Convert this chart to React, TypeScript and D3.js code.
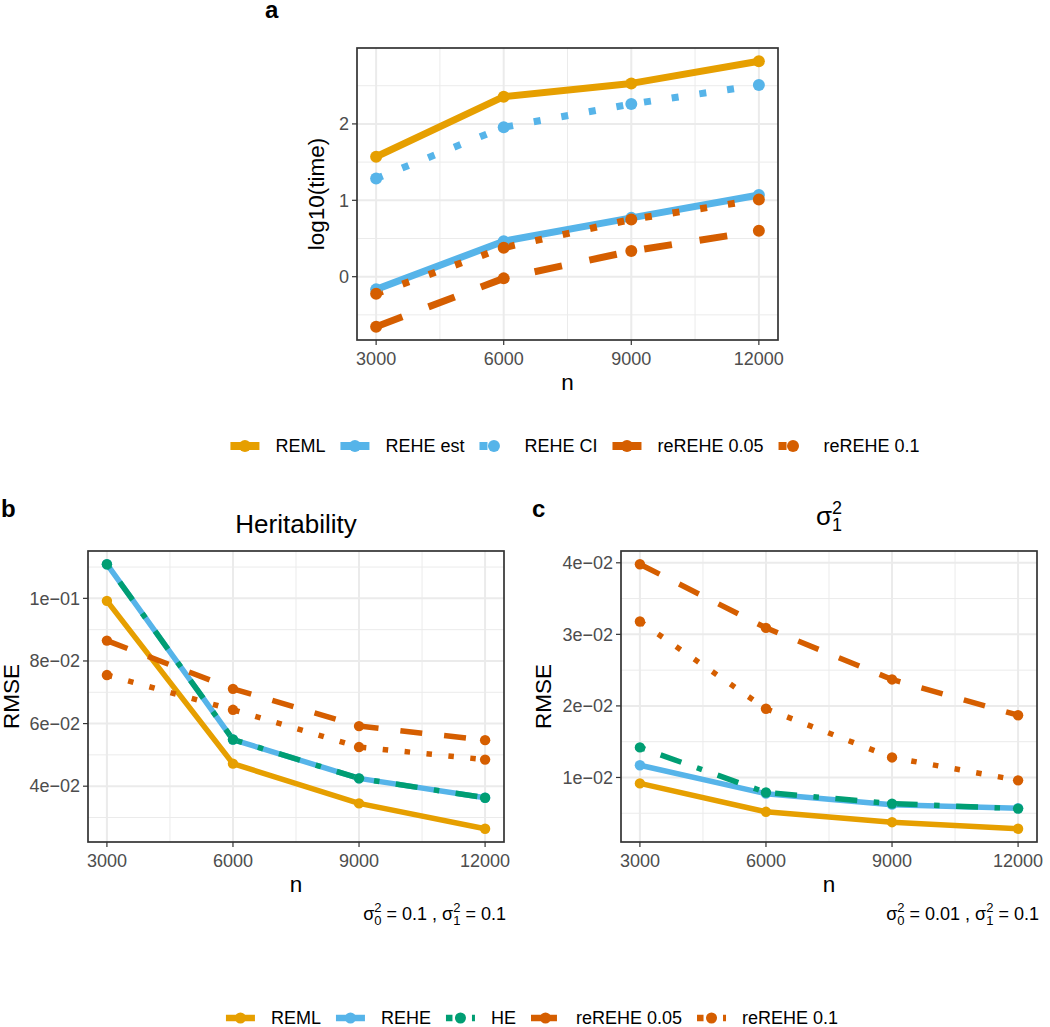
import React from 'react';
import * as d3 from 'd3';

// ---------------- data ----------------
const nValues = [3000, 6000, 9000, 12000];

// Panel a: log10(time)
const timeREML = [1.57, 2.357, 2.53, 2.82];
const timeREHEest = [-0.166, 0.465, 0.77, 1.07];
const timeREHECI = [1.285, 1.956, 2.26, 2.51];
const timeReREHE005 = [-0.655, -0.022, 0.335, 0.6];
const timeReREHE01 = [-0.222, 0.38, 0.75, 1.01];

// Panel b: Heritability RMSE
const h2REML = [0.0992, 0.0472, 0.0345, 0.0264];
const h2REHE = [0.1109, 0.0549, 0.0425, 0.0363];
const h2HE = [0.1109, 0.0549, 0.0425, 0.0363];
const h2ReREHE005 = [0.0865, 0.0711, 0.0592, 0.0547];
const h2ReREHE01 = [0.0755, 0.0644, 0.0525, 0.0485];

// Panel c: sigma_1^2 RMSE
const s1REML = [0.00917, 0.0052, 0.00375, 0.00283];
const s1REHE = [0.0117, 0.00774, 0.0062, 0.0057];
const s1HE = [0.0142, 0.0079, 0.00635, 0.00565];
const s1ReREHE005 = [0.0398, 0.0309, 0.0237, 0.0187];
const s1ReREHE01 = [0.0318, 0.0196, 0.0128, 0.0096];

const xTicks = [3000, 6000, 9000, 12000];
const xMinor = [4500, 7500, 10500];
const aYTicks = [0, 1, 2];
const aYMinor = [-0.5, 0.5, 1.5, 2.5];
const bYTicks = [0.04, 0.06, 0.08, 0.1];
const bYMinor = [0.03, 0.05, 0.07, 0.09, 0.11];
const cYTicks = [0.01, 0.02, 0.03, 0.04];
const cYMinor = [0.005, 0.015, 0.025, 0.035];

const legendALabels = ['REML', 'REHE est', 'REHE CI', 'reREHE 0.05', 'reREHE 0.1'];
const legendBLabels = ['REML', 'REHE', 'HE', 'reREHE 0.05', 'reREHE 0.1'];

// ---------------- styles ----------------
const C_REML = '#E69F00';
const C_REHE = '#56B4E9';
const C_HE = '#009E73';
const C_RE = '#D55E00';
const FONT = "'Liberation Sans', Arial, Helvetica, sans-serif";

type LT = 'solid' | 'dashed' | 'dotted' | 'dotdash';
interface Series { values: number[]; color: string; lt: LT; }

const aSeries: Series[] = [
  { values: timeREML, color: C_REML, lt: 'solid' },
  { values: timeREHEest, color: C_REHE, lt: 'solid' },
  { values: timeREHECI, color: C_REHE, lt: 'dotted' },
  { values: timeReREHE005, color: C_RE, lt: 'dashed' },
  { values: timeReREHE01, color: C_RE, lt: 'dotted' },
];
const bSeries: Series[] = [
  { values: h2REML, color: C_REML, lt: 'solid' },
  { values: h2REHE, color: C_REHE, lt: 'solid' },
  { values: h2HE, color: C_HE, lt: 'dotdash' },
  { values: h2ReREHE005, color: C_RE, lt: 'dashed' },
  { values: h2ReREHE01, color: C_RE, lt: 'dotted' },
];
const cSeries: Series[] = [
  { values: s1REML, color: C_REML, lt: 'solid' },
  { values: s1REHE, color: C_REHE, lt: 'solid' },
  { values: s1HE, color: C_HE, lt: 'dotdash' },
  { values: s1ReREHE005, color: C_RE, lt: 'dashed' },
  { values: s1ReREHE01, color: C_RE, lt: 'dotted' },
];

function dash(lt: LT, lw: number): string | undefined {
  if (lt === 'dashed') return `${4 * lw} ${4 * lw}`;
  if (lt === 'dotted') return `${lw} ${3 * lw}`;
  if (lt === 'dotdash') return `${lw} ${3 * lw} ${4 * lw} ${3 * lw}`;
  return undefined;
}

function sciFmt(v: number): string {
  const s = d3.format('.0e')(v);
  const [m, e] = s.split('e');
  const n = parseInt(e, 10);
  const sign = n < 0 ? '\u2212' : '+';
  return `${m}e${sign}${String(Math.abs(n)).padStart(2, '0')}`;
}

interface Rect { x0: number; x1: number; y0: number; y1: number; }

function Panel({ rect, series, yTicks, yMinor, yFmt, lw, r }: {
  rect: Rect; series: Series[]; yTicks: number[]; yMinor: number[];
  yFmt: (v: number) => string; lw: number; r: number;
}) {
  const xPad = (12000 - 3000) * 0.05;
  const x = d3.scaleLinear().domain([3000 - xPad, 12000 + xPad]).range([rect.x0, rect.x1]);
  const all = series.flatMap((s) => s.values);
  const [lo, hi] = d3.extent(all) as [number, number];
  const pad = (hi - lo) * 0.05;
  const y = d3.scaleLinear().domain([lo - pad, hi + pad]).range([rect.y1, rect.y0]);
  const line = d3.line<number>().x((_, i) => x(nValues[i])).y((d) => y(d));
  const grid = '#EBEBEB';
  return (
    <g>
      <rect x={rect.x0} y={rect.y0} width={rect.x1 - rect.x0} height={rect.y1 - rect.y0} fill="white" />
      {yMinor.map((v) => (
        <line key={'ym' + v} x1={rect.x0} x2={rect.x1} y1={y(v)} y2={y(v)} stroke={grid} strokeWidth={1} />
      ))}
      {xMinor.map((v) => (
        <line key={'xm' + v} y1={rect.y0} y2={rect.y1} x1={x(v)} x2={x(v)} stroke={grid} strokeWidth={1} />
      ))}
      {yTicks.map((v) => (
        <line key={'yg' + v} x1={rect.x0} x2={rect.x1} y1={y(v)} y2={y(v)} stroke={grid} strokeWidth={2} />
      ))}
      {xTicks.map((v) => (
        <line key={'xg' + v} y1={rect.y0} y2={rect.y1} x1={x(v)} x2={x(v)} stroke={grid} strokeWidth={2} />
      ))}
      {series.map((s, i) => (
        <path key={'l' + i} d={line(s.values) || ''} fill="none" stroke={s.color} strokeWidth={lw}
          strokeDasharray={dash(s.lt, lw)} strokeLinecap="butt" strokeLinejoin="round" />
      ))}
      {series.map((s, i) =>
        s.values.map((v, j) => (
          <circle key={'p' + i + '-' + j} cx={x(nValues[j])} cy={y(v)} r={r} fill={s.color} />
        ))
      )}
      <rect x={rect.x0} y={rect.y0} width={rect.x1 - rect.x0} height={rect.y1 - rect.y0}
        fill="none" stroke="#333333" strokeWidth={1.7} />
      {xTicks.map((v) => (
        <g key={'xt' + v}>
          <line x1={x(v)} x2={x(v)} y1={rect.y1} y2={rect.y1 + 5} stroke="#333333" strokeWidth={1.2} />
          <text x={x(v)} y={rect.y1 + 25} textAnchor="middle" fontSize={18} fill="#4D4D4D">{v}</text>
        </g>
      ))}
      {yTicks.map((v) => (
        <g key={'yt' + v}>
          <line x1={rect.x0 - 5} x2={rect.x0} y1={y(v)} y2={y(v)} stroke="#333333" strokeWidth={1.2} />
          <text x={rect.x0 - 8} y={y(v)} dy="0.35em" textAnchor="end" fontSize={18} fill="#4D4D4D">{yFmt(v)}</text>
        </g>
      ))}
      <text x={(rect.x0 + rect.x1) / 2} y={rect.y1 + 50} textAnchor="middle" fontSize={22.5} fill="black">n</text>
    </g>
  );
}

function measure(text: string, size: number): number {
  if (typeof document === 'undefined') return text.length * size * 0.55;
  const c = document.createElement('canvas').getContext('2d');
  if (!c) return text.length * size * 0.55;
  c.font = `${size}px ${FONT}`;
  return c.measureText(text).width;
}

function Legend({ labels, series, cx, cy, lw, r }: {
  labels: string[]; series: Series[]; cx: number; cy: number; lw: number; r: number;
}) {
  const keyW = 29;
  const widths = labels.map((l) => measure(l, 18));
  const total = d3.sum(widths) + labels.length * 45 + (labels.length - 1) * 15;
  let xPos = cx - total / 2;
  const items = labels.map((l, i) => {
    const x0 = xPos;
    xPos += 45 + widths[i] + 15;
    return { l, x0, s: series[i] };
  });
  return (
    <g>
      {items.map((it, i) => (
        <g key={i}>
          <line x1={it.x0} x2={it.x0 + keyW} y1={cy} y2={cy} stroke={it.s.color} strokeWidth={lw}
            strokeDasharray={dash(it.s.lt, lw)} strokeLinecap="butt" />
          <circle cx={it.x0 + keyW / 2} cy={cy} r={r} fill={it.s.color} />
          <text x={it.x0 + 45} y={cy} dy="0.35em" fontSize={18} fill="black">{it.l}</text>
        </g>
      ))}
    </g>
  );
}

function Caption({ right, y, s0 }: { right: number; y: number; s0: string }) {
  return (
    <text x={right} y={y} textAnchor="end" fontSize={18} fill="black" style={{ whiteSpace: 'pre' }}>
      σ<tspan dy={-8} fontSize={13}>2</tspan><tspan dx={-7.2} dy={13} fontSize={13}>0</tspan>
      <tspan dy={-5}>{` = ${s0} , σ`}</tspan><tspan dy={-8} fontSize={13}>2</tspan>
      <tspan dx={-7.2} dy={13} fontSize={13}>1</tspan><tspan dy={-5}>{' = 0.1'}</tspan>
    </text>
  );
}

export default function App() {
  const rectA: Rect = { x0: 357, x1: 778, y0: 48, y1: 340 };
  const rectB: Rect = { x0: 88, x1: 504, y0: 551, y1: 842 };
  const rectC: Rect = { x0: 621, x1: 1037, y0: 551, y1: 842 };
  return (
    <svg width={1050} height={1027} style={{ position: 'absolute', left: 0, top: 0, fontFamily: FONT }}
      xmlns="http://www.w3.org/2000/svg">
      <rect width={1050} height={1027} fill="white" />
      {/* panel a */}
      <text x={265} y={18} fontSize={24} fontWeight="bold">a</text>
      <Panel rect={rectA} series={aSeries} yTicks={aYTicks} yMinor={aYMinor} yFmt={(v) => String(v)} lw={7} r={6} />
      <text transform={`translate(324,${(rectA.y0 + rectA.y1) / 2}) rotate(-90)`} textAnchor="middle" fontSize={22.5}>log10(time)</text>
      <Legend labels={legendALabels} series={aSeries} cx={575} cy={446} lw={8} r={6} />

      {/* panel b */}
      <text x={1} y={517} fontSize={24} fontWeight="bold">b</text>
      <text x={(rectB.x0 + rectB.x1) / 2} y={533} textAnchor="middle" fontSize={26}>Heritability</text>
      <Panel rect={rectB} series={bSeries} yTicks={bYTicks} yMinor={bYMinor} yFmt={sciFmt} lw={5.5} r={5.2} />
      <text transform={`translate(19,${(rectB.y0 + rectB.y1) / 2}) rotate(-90)`} textAnchor="middle" fontSize={22.5}>RMSE</text>
      <Caption right={506} y={920} s0="0.1" />

      {/* panel c */}
      <text x={532} y={517} fontSize={24} fontWeight="bold">c</text>
      <text x={(rectC.x0 + rectC.x1) / 2} y={525} textAnchor="middle" fontSize={26}>
        σ<tspan dy={-11} fontSize={18}>2</tspan><tspan dx={-10} dy={17} fontSize={18}>1</tspan>
      </text>
      <Panel rect={rectC} series={cSeries} yTicks={cYTicks} yMinor={cYMinor} yFmt={sciFmt} lw={5.5} r={5.2} />
      <text transform={`translate(551,${(rectC.y0 + rectC.y1) / 2}) rotate(-90)`} textAnchor="middle" fontSize={22.5}>RMSE</text>
      <Caption right={1039} y={920} s0="0.01" />

      <Legend labels={legendBLabels} series={bSeries} cx={532} cy={1018} lw={6.5} r={5.5} />
    </svg>
  );
}
